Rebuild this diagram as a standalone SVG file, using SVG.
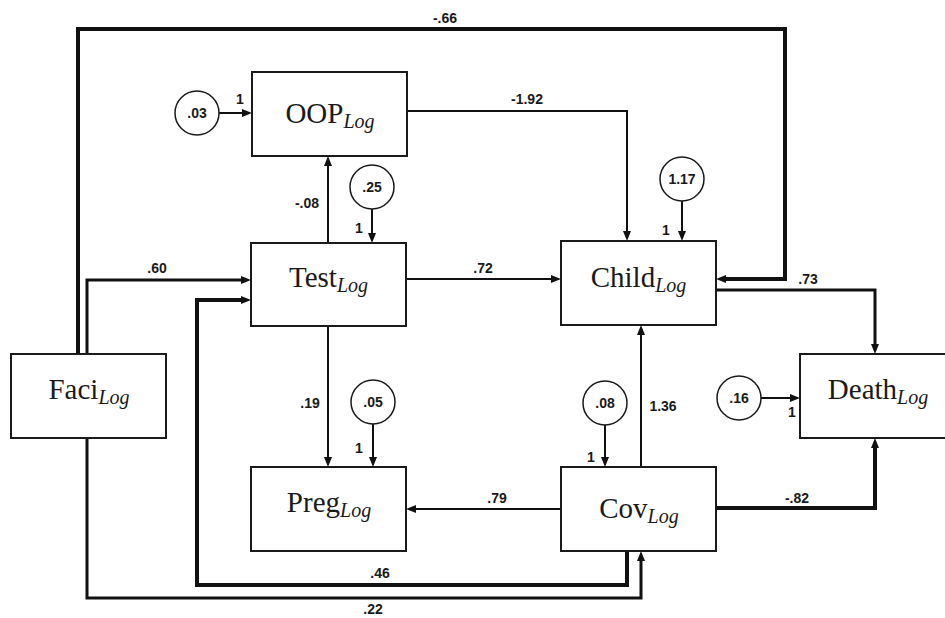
<svg xmlns="http://www.w3.org/2000/svg" width="945" height="618" viewBox="0 0 945 618">
<style>
.box{fill:#fff;stroke:#1a1a1a;stroke-width:2}
.nm{font-family:"Liberation Serif","Times New Roman",serif;font-size:29px;fill:#1a1a1a}
.sub{font-style:italic;font-size:20px}
.err{fill:#fff;stroke:#1a1a1a;stroke-width:1.5}
.lb{font-family:"Liberation Sans",Arial,sans-serif;font-weight:bold;font-size:14px;fill:#1a1a1a;text-anchor:middle}
.c{fill:none;stroke:#111;stroke-linejoin:miter;marker-end:url(#ah)}
.w2{stroke-width:2}
.w3{stroke-width:3}
.w4{stroke-width:4}
</style>
<defs>
<marker id="ah" viewBox="0 0 10 8" markerWidth="10" markerHeight="8" refX="4" refY="4" orient="auto" markerUnits="userSpaceOnUse">
<path d="M0,0 L10,4 L0,8 z" fill="#111"/>
</marker>
</defs>
<rect width="945" height="618" fill="#fff"/>
<g id="connectors">
<path class="c w4" d="M78,354 V29 H785 V279 H722"/>
<path class="c w3" d="M87,354 V280 H245"/>
<path class="c w3" d="M87,438 V598 H641 V557"/>
<path class="c w4" d="M627,551 V585 H197 V300 H245"/>
<path class="c w2" d="M328,243 V162"/>
<path class="c w2" d="M407,111 H627 V235"/>
<path class="c w2" d="M406,279 H555"/>
<path class="c w3" d="M716,290 H875 V348"/>
<path class="c w2" d="M328,326 V461"/>
<path class="c w2" d="M641,467 V331"/>
<path class="c w2" d="M561,509 H412"/>
<path class="c w4" d="M716,508 H875 V444"/>
<path class="c w2" d="M219,113 H246"/>
<path class="c w2" d="M372,209 V237"/>
<path class="c w2" d="M682,201 V235"/>
<path class="c w2" d="M373,424 V461"/>
<path class="c w2" d="M605,425 V461"/>
<path class="c w2" d="M761,398 H794"/>
<text class="lb" x="445" y="23">-.66</text>
<text class="lb" x="157" y="273">.60</text>
<text class="lb" x="373" y="614">.22</text>
<text class="lb" x="380" y="578">.46</text>
<text class="lb" x="307" y="208">-.08</text>
<text class="lb" x="527" y="104">-1.92</text>
<text class="lb" x="483" y="273">.72</text>
<text class="lb" x="808" y="284">.73</text>
<text class="lb" x="310" y="408">.19</text>
<text class="lb" x="663" y="411">1.36</text>
<text class="lb" x="497" y="503">.79</text>
<text class="lb" x="797" y="503">-.82</text>
<text class="lb" x="240" y="104">1</text>
<text class="lb" x="359" y="233">1</text>
<text class="lb" x="666" y="235">1</text>
<text class="lb" x="359" y="453">1</text>
<text class="lb" x="591" y="462">1</text>
<text class="lb" x="792" y="417">1</text>
</g>
<g id="e-oop"><circle class="err" cx="197" cy="113" r="22"/><text class="lb" x="197" y="118">.03</text></g>
<g id="e-test"><circle class="err" cx="372" cy="187" r="22"/><text class="lb" x="372" y="192">.25</text></g>
<g id="e-child"><circle class="err" cx="682" cy="179" r="22"/><text class="lb" x="682" y="184">1.17</text></g>
<g id="e-preg"><circle class="err" cx="373" cy="402" r="22"/><text class="lb" x="373" y="407">.05</text></g>
<g id="e-cov"><circle class="err" cx="605" cy="403" r="22"/><text class="lb" x="605" y="408">.08</text></g>
<g id="e-death"><circle class="err" cx="739" cy="398" r="22"/><text class="lb" x="739" y="403">.16</text></g>
<g id="oop"><rect class="box" x="252" y="72" width="155" height="84"/><text class="nm" x="330" y="123" text-anchor="middle">OOP<tspan class="sub" dy="5">Log</tspan></text></g>
<g id="test"><rect class="box" x="251" y="243" width="155" height="83"/><text class="nm" x="328.5" y="287" text-anchor="middle">Test<tspan class="sub" dy="5">Log</tspan></text></g>
<g id="faci"><rect class="box" x="11" y="354" width="155" height="84"/><text class="nm" x="89" y="399" text-anchor="middle">Faci<tspan class="sub" dy="5">Log</tspan></text></g>
<g id="preg"><rect class="box" x="251" y="467" width="155" height="84"/><text class="nm" x="329" y="512" text-anchor="middle">Preg<tspan class="sub" dy="5">Log</tspan></text></g>
<g id="child"><rect class="box" x="561" y="241" width="155" height="84"/><text class="nm" x="638.5" y="287" text-anchor="middle">Child<tspan class="sub" dy="5">Log</tspan></text></g>
<g id="cov"><rect class="box" x="561" y="467" width="155" height="84"/><text class="nm" x="639" y="518" text-anchor="middle">Cov<tspan class="sub" dy="5">Log</tspan></text></g>
<g id="death"><rect class="box" x="800" y="354" width="160" height="84"/><text class="nm" x="878" y="399" text-anchor="middle">Death<tspan class="sub" dy="5">Log</tspan></text></g>
</svg>
